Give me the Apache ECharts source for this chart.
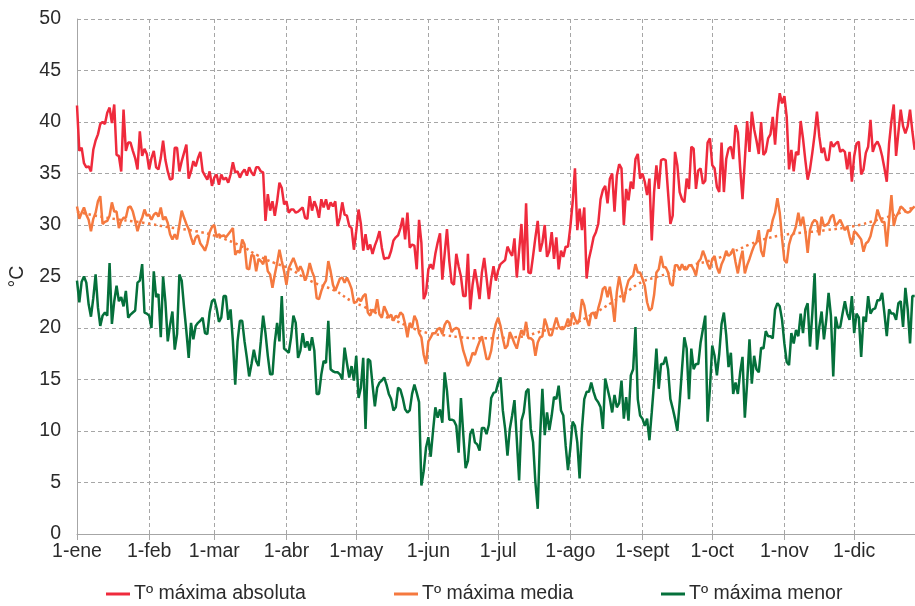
<!DOCTYPE html>
<html>
<head>
<meta charset="utf-8">
<script src="https://cdn.jsdelivr.net/npm/echarts@6/dist/echarts.min.js"></script>
<style>
html,body{margin:0;padding:0;background:#fff;}
#chart{width:915px;height:606px;}
</style>
</head>
<body>
<div id="chart"></div>
<script>
// ---- categories ----
const monthNames = ['ene','feb','mar','abr','may','jun','jul','ago','sept','oct','nov','dic'];
const monthDays = [31,28,31,30,31,30,31,31,30,31,30,31];
const yTicks = [0,5,10,15,20,25,30,35,40,45,50];
const seriesNames = ['Tº máxima absoluta','Tº máxima media','Tº máxima menor'];

// ---- series values (one per day, 1-ene = index 0) ----
const maxAbsoluta = [
41.6,37.2,37.5,36.0,35.6,35.7,35.2,37.3,38.2,38.8,
39.8,40.0,39.8,40.9,41.4,39.9,41.7,36.8,36.7,35.2,
41.2,37.2,38.0,38.0,37.2,36.5,35.4,39.1,36.7,37.4,
36.9,35.4,36.5,37.2,35.6,35.4,36.5,38.2,36.3,35.2,
34.4,34.5,37.5,37.5,35.2,36.2,37.0,37.8,34.5,35.2,
36.2,35.7,36.5,37.1,35.2,34.8,34.4,35.2,33.8,34.6,
34.9,33.9,34.9,34.4,34.6,34.1,34.9,36.1,35.1,35.2,
34.6,35.1,35.4,34.8,35.6,35.1,34.8,35.6,35.6,35.2,
35.1,30.4,33.0,31.4,32.3,30.9,32.3,34.1,33.6,32.0,
32.3,31.2,31.5,31.5,31.2,31.3,31.5,31.7,30.7,30.6,
32.8,31.4,32.3,31.7,30.7,32.5,31.7,32.5,31.5,32.2,
31.8,32.3,29.9,30.7,32.2,31.0,30.9,29.9,29.7,27.6,
29.4,31.5,30.1,27.5,29.1,27.6,28.1,27.2,28.0,28.6,
29.4,27.8,26.7,26.8,26.8,27.5,28.5,28.8,29.0,29.7,
30.7,28.6,31.2,27.8,28.1,28.0,25.7,30.5,28.3,22.8,
23.4,25.7,26.2,25.7,27.2,28.3,29.2,24.7,27.2,29.6,
26.5,24.4,24.2,27.2,26.0,25.0,23.1,23.1,27.2,21.8,
24.2,25.7,24.4,22.8,25.4,26.8,24.9,22.8,24.7,26.0,
24.6,25.6,26.2,26.4,26.6,27.9,27.4,27.0,28.7,24.9,
27.5,30.1,25.6,32.1,25.4,25.3,27.0,28.8,30.4,27.4,
28.3,30.0,26.9,27.5,29.3,26.7,28.8,25.7,27.5,26.9,
27.9,27.9,29.8,32.2,35.5,29.5,31.6,29.5,31.7,24.8,
26.7,27.7,28.8,29.3,30.1,32.5,33.4,33.8,32.1,34.5,
35.0,31.3,34.8,35.9,35.5,30.0,33.5,32.4,34.2,33.5,
36.4,36.9,34.5,35.0,34.2,32.9,34.5,28.5,33.2,35.8,
33.5,36.3,36.4,36.3,33.2,30.1,30.9,37.1,35.8,33.2,
32.5,32.2,34.5,33.5,37.6,37.4,33.5,35.3,35.5,34.0,
34.3,38.0,38.4,35.8,35.5,33.7,33.2,38.0,33.2,36.4,
37.4,37.6,36.4,39.7,39.0,35.5,32.5,36.3,40.1,37.1,
41.0,39.3,38.2,36.9,40.0,36.8,37.1,38.4,38.8,40.5,
37.8,40.9,42.8,41.8,42.5,40.5,35.4,37.3,35.2,37.1,
36.8,40.1,38.4,36.3,34.4,35.4,37.0,38.8,41.0,38.6,
37.0,37.5,36.3,36.3,38.1,37.6,37.9,38.1,37.1,37.3,
37.1,35.4,37.1,34.2,36.7,37.9,38.1,34.9,35.4,37.0,
37.6,40.2,37.1,37.8,38.1,37.6,36.7,35.5,34.2,37.9,
40.1,41.7,36.7,39.0,41.2,39.6,38.9,39.6,41.2,39.1,
37.3];

const maxMedia = [
31.8,30.6,31.2,31.7,31.0,30.5,29.4,30.6,31.2,32.3,
32.8,30.1,30.3,30.4,30.9,32.2,31.3,31.3,29.7,30.4,
30.7,30.7,31.7,31.8,31.3,30.4,29.4,30.2,30.7,31.5,
30.9,31.0,30.5,31.0,31.2,30.8,31.7,30.5,30.8,30.2,
29.1,28.6,29.1,28.6,30.0,31.4,30.7,30.1,29.6,28.8,
28.1,28.8,29.0,28.2,27.9,27.5,28.2,29.3,29.8,30.0,
28.8,29.1,28.9,29.0,28.8,29.1,29.4,29.7,27.1,27.5,
27.3,28.6,28.1,25.8,25.7,27.1,27.0,25.5,26.7,26.5,
26.2,27.0,25.5,25.2,23.9,25.2,26.3,27.6,26.5,25.5,
24.2,25.8,26.3,26.8,26.2,25.5,26.0,25.5,24.6,25.2,
26.3,25.5,24.9,22.9,22.8,23.6,24.2,24.6,26.5,25.5,
24.2,23.6,24.2,24.8,24.9,24.4,24.9,24.4,23.8,22.5,
22.5,22.9,22.6,23.1,23.3,21.5,21.2,21.8,21.5,22.8,
21.3,21.0,22.1,21.6,21.0,21.3,20.7,21.2,21.0,21.5,
21.3,20.4,19.1,20.5,20.0,21.2,20.7,19.5,19.1,17.4,
16.5,18.7,19.1,19.5,19.5,19.9,20.0,19.4,20.3,20.7,
20.5,19.6,19.9,20.0,19.9,18.9,17.8,17.1,16.3,16.8,
17.6,17.4,18.1,18.7,19.2,18.1,17.0,17.0,17.8,19.4,
20.4,21.0,20.2,19.0,18.0,18.3,19.6,19.1,18.5,18.0,
19.0,19.8,19.3,20.6,19.0,19.0,18.8,17.3,18.6,19.1,
19.2,20.9,20.2,19.3,19.3,20.2,21.0,20.2,19.9,19.9,
20.2,20.9,20.2,21.5,20.9,20.4,20.9,22.8,22.2,20.9,
20.2,21.4,21.5,20.9,21.9,22.7,23.8,24.0,23.0,24.0,
22.5,20.6,23.5,25.0,23.8,22.5,23.8,24.6,24.9,25.1,
26.2,25.4,25.4,24.8,24.1,22.5,21.7,21.9,23.2,25.4,
25.7,27.0,25.9,25.9,25.4,24.3,24.1,26.1,26.1,25.6,
26.2,25.7,25.7,26.1,26.1,25.7,25.1,26.4,26.7,27.5,
26.9,26.2,25.7,26.7,27.0,25.9,25.3,26.2,26.7,27.5,
27.0,27.2,27.7,26.4,25.3,26.6,27.5,25.3,26.1,26.7,
27.4,28.0,28.3,29.5,27.5,26.9,28.6,29.5,29.4,30.5,
31.2,32.6,31.2,28.7,26.6,26.3,28.1,28.9,29.2,29.9,
31.2,29.9,30.8,29.4,27.3,29.5,30.2,30.5,30.3,29.0,
30.8,29.9,30.0,30.2,30.8,31.0,29.9,30.2,30.5,30.0,
29.5,29.9,28.9,28.1,29.4,29.2,28.9,28.6,27.4,28.2,
28.4,28.9,29.9,30.3,31.5,30.8,30.3,30.3,27.9,30.5,
32.9,29.9,30.8,31.2,31.8,31.6,31.3,31.2,31.3,31.6,
31.8];

const maxMenor = [
24.6,22.5,24.5,25.0,24.4,22.3,21.1,22.9,25.2,22.0,
20.2,21.2,21.5,21.2,26.3,20.4,22.6,24.1,22.6,23.0,
22.1,23.6,21.0,21.3,21.5,21.7,24.4,24.6,26.2,21.5,
21.4,21.2,20.0,25.5,23.0,23.3,19.1,25.0,22.5,18.7,
20.3,21.6,17.9,19.4,25.2,24.6,22.0,19.7,17.1,20.5,
18.9,20.2,20.5,20.7,21.0,19.5,19.4,21.5,22.6,22.8,
21.9,20.6,21.0,23.1,23.1,20.8,21.8,18.7,14.5,18.7,
20.7,20.7,18.7,17.1,15.3,16.5,17.9,16.8,16.3,18.7,
21.2,19.5,17.3,15.5,15.5,18.6,20.5,18.7,23.1,18.0,
17.8,17.6,19.1,21.2,20.5,17.1,17.8,19.5,18.1,18.7,
17.8,19.1,17.8,13.6,13.6,15.5,16.8,16.6,20.7,16.0,
15.8,15.7,15.7,15.5,15.0,18.1,16.6,15.2,16.3,14.9,
17.3,13.2,14.2,17.1,10.2,17.0,16.8,14.5,12.4,14.2,
14.7,14.9,15.2,14.5,13.6,13.1,12.0,12.3,14.2,14.0,
13.2,12.1,11.8,12.0,13.6,14.5,13.7,12.8,4.7,6.1,
8.4,9.4,7.5,10.0,12.3,11.3,12.1,10.8,15.7,13.9,
11.1,11.1,11.0,10.5,7.9,13.2,9.7,6.4,7.1,9.7,
10.2,8.9,8.7,8.1,10.3,10.3,9.7,10.6,13.2,13.7,
13.8,14.7,15.2,12.0,10.2,7.6,10.2,11.5,13.0,9.2,
5.2,11.0,11.8,13.8,14.1,10.2,8.9,5.0,2.45,9.4,
14.1,9.6,11.8,10.1,11.5,13.3,13.1,14.4,12.0,11.5,
8.6,6.2,8.3,10.9,10.5,8.9,5.4,10.2,13.1,13.8,
13.8,14.7,13.8,13.1,12.8,12.3,10.2,15.1,14.1,13.1,
11.8,13.5,12.3,12.7,14.9,11.2,13.3,11.0,15.4,16.0,
20.1,13.1,11.5,11.2,10.5,11.2,9.1,11.8,14.7,18.0,
14.1,16.5,16.5,17.2,16.0,13.1,12.2,11.2,10.0,12.8,
16.0,19.1,18.0,13.1,18.0,16.0,16.5,16.5,18.6,19.9,
21.2,10.9,14.1,18.3,17.3,15.4,17.5,20.4,21.5,19.3,
16.2,17.6,13.6,14.7,13.6,15.7,17.2,11.3,14.7,18.9,
14.6,17.3,16.0,15.7,18.1,18.0,19.7,19.2,19.2,19.0,
21.8,22.4,22.1,20.8,18.5,16.7,16.4,19.5,18.5,19.8,
19.2,21.4,19.5,21.8,22.4,18.2,21.4,25.3,17.9,20.1,
21.6,18.9,20.8,23.4,21.2,15.3,21.1,20.0,20.1,21.4,
22.6,21.4,20.8,23.1,19.5,21.4,21.0,17.2,21.1,20.6,
23.1,21.4,21.8,21.9,22.7,22.7,23.4,21.4,19.2,21.8,
21.4,21.4,20.8,22.4,22.6,20.1,23.9,21.8,18.5,23.1,
23.1];

// trend line of the media series, read at sample days
const trendDays   = [0,13,29,39,51,60,71,78,85,91,100,111,118,123,130,137,144,151,158,165,173,188,202,212,222,230,235,243,250,256,264,273,282,289,295,304,314,322,334,344,354,360];
const trendValues = [31.3,30.7,30.2,29.8,29.4,28.9,27.9,27.0,26.3,25.8,24.6,23.6,22.6,22.1,21.3,20.7,20.0,19.5,19.3,19.1,19.0,19.1,19.8,20.3,21.4,22.5,23.3,24.5,25.0,25.5,26.1,26.6,27.4,28.1,28.6,29.05,29.3,29.5,29.9,30.5,31.2,31.8];

// ---- build categories ----
const categories = [];
const monthStart = new Set();
monthNames.forEach((m, i) => {
  for (let d = 1; d <= monthDays[i]; d++) {
    if (d === 1) monthStart.add(categories.length);
    categories.push(d + '-' + m);
  }
});
const isMonthStart = (idx) => monthStart.has(idx);
const trendData = trendDays.map((d, i) => [d, trendValues[i]]);

const FONT = "'Liberation Sans',Arial,sans-serif";
const FS = 19.5;
const TXT = '#2b2b2b';
const GRIDC = '#a6a6a6';
const colors = ['#ef2a3c', '#f5793f', '#05703b'];

const chart = echarts.init(document.getElementById('chart'), null, {renderer: 'canvas'});
const legendLefts = [106, 394, 661];
chart.setOption({
  animation: false,
  backgroundColor: '#ffffff',
  textStyle: {fontFamily: FONT},
  grid: {left: 77, right: -9, top: 19, bottom: 72, containLabel: false, outerBoundsMode: 'none'},
  legend: seriesNames.map((n, i) => ({
    data: [n], left: legendLefts[i], top: 584, padding: 0,
    icon: 'rect', itemWidth: 24, itemHeight: 3, itemGap: 5,
    textStyle: {fontFamily: FONT, fontSize: FS, color: TXT, padding: [0, 0, 0, -1]}
  })),
  xAxis: {
    type: 'category',
    data: categories,
    boundaryGap: false,
    axisLine: {show: true, lineStyle: {color: GRIDC, width: 1}},
    axisTick: {show: true, interval: isMonthStart, length: 6, lineStyle: {color: GRIDC}},
    axisLabel: {interval: isMonthStart, fontFamily: FONT, fontSize: FS, color: TXT, margin: 8},
    splitLine: {show: true, interval: isMonthStart, lineStyle: {color: GRIDC, type: [4, 3], width: 1}}
  },
  yAxis: {
    type: 'value', min: yTicks[0], max: yTicks[yTicks.length - 1], interval: 5,
    name: '°C', nameLocation: 'middle', nameGap: 49, nameRotate: 90,
    nameTextStyle: {fontFamily: FONT, fontSize: FS, color: TXT},
    axisLine: {show: true, lineStyle: {color: GRIDC, width: 1}},
    axisTick: {show: false},
    axisLabel: {fontFamily: FONT, fontSize: FS, color: TXT, margin: 16},
    splitLine: {show: true, lineStyle: {color: GRIDC, type: [4, 3], width: 1}}
  },
  series: [
    {name: seriesNames[0], type: 'line', data: maxAbsoluta, showSymbol: false, symbol: 'none',
     lineStyle: {color: colors[0], width: 2.5}, itemStyle: {color: colors[0]}},
    {name: seriesNames[1], type: 'line', data: maxMedia, showSymbol: false, symbol: 'none',
     lineStyle: {color: colors[1], width: 2.5}, itemStyle: {color: colors[1]}},
    {name: seriesNames[2], type: 'line', data: maxMenor, showSymbol: false, symbol: 'none',
     lineStyle: {color: colors[2], width: 2.5}, itemStyle: {color: colors[2]}},
    {name: 'tendencia', type: 'line', data: trendData, smooth: true, showSymbol: false, symbol: 'none',
     lineStyle: {color: colors[1], width: 2.5, type: [2.5, 3.5]}, z: 5}
  ]
});
if (maxAbsoluta.length !== 361 || maxMedia.length !== 361 || maxMenor.length !== 361) {
  chart.setOption({title: {text: maxAbsoluta.length + ' ' + maxMedia.length + ' ' + maxMenor.length}});
}
</script>
</body>
</html>
